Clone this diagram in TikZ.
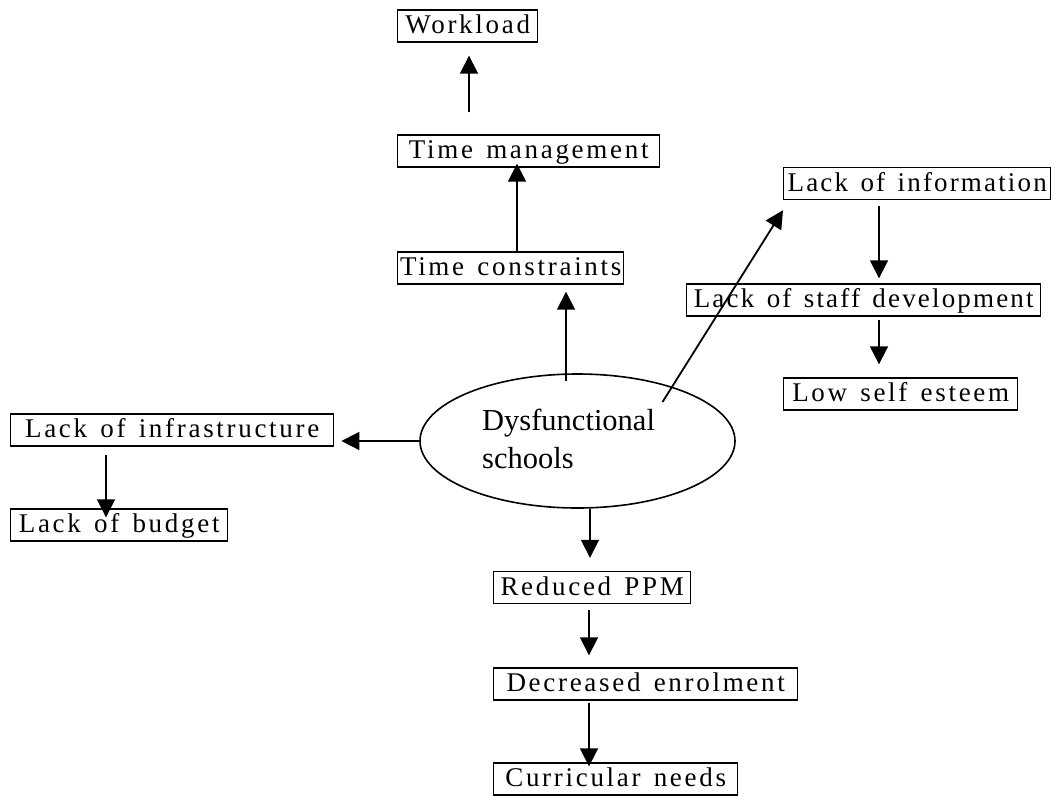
\documentclass[tikz,border=0pt]{standalone}
\usepackage{fontspec}
\setmainfont{Liberation Serif}
\newfontfamily\boxfont[LetterSpace=10,WordSpace=1.4]{Liberation Serif}
\newfontfamily\boxfonttight[LetterSpace=8,WordSpace=1.4]{Liberation Serif}
\usetikzlibrary{arrows.meta,shapes.geometric,calc}

\begin{document}
\begin{tikzpicture}[x=1pt,y=-1pt,
  cause/.style={draw, line width=1.4pt, anchor=west,
    font=\boxfont\fontsize{27}{30}\selectfont,
    minimum height=32pt, inner xsep=2pt, inner ysep=0pt,
    text height=20pt, text depth=5pt},
  tight/.style={font=\boxfonttight\fontsize{27}{30}\selectfont},
  arr/.style={line width=1.8pt, -{Triangle[length=18pt,width=18pt]}},
]
\fill[white] (0,0) rectangle (1055,796);
\useasboundingbox (0,0) rectangle (1055,796);

% boxes
\node[cause, minimum width=140pt] (workload)   at (397,26)    {Workload};
\node[cause, minimum width=262pt] (timemgmt)   at (397,151)   {Time management};
\node[cause, minimum width=226pt] (timecons)   at (397,268)   {Time constraints};
\node[cause, tight, minimum width=267pt] (lackinfo) at (783,183.5) {Lack of information};
\node[cause, tight, minimum width=354pt] (staffdev) at (686,300)   {Lack of staff development};
\node[cause, minimum width=234pt] (selfesteem) at (783,394)   {Low self esteem};
\node[cause, minimum width=323pt] (infra)      at (10,430)    {Lack of infrastructure};
\node[cause, minimum width=217pt] (budget)     at (10,525)    {Lack of budget};
\node[cause, minimum width=197pt] (ppm)        at (493,587.5) {Reduced PPM};
\node[cause, minimum width=304pt] (enrol)      at (493,684)   {Decreased enrolment};
\node[cause, minimum width=244pt] (curric)     at (493,779)   {Curricular needs};

% central ellipse
\node[ellipse, draw, line width=1.6pt, minimum width=315pt, minimum height=134pt,
      inner sep=0pt] (dys) at (577.5,441) {};
\node[anchor=west, align=left, font=\fontsize{30.5}{38}\selectfont, inner sep=0pt]
      (dyslabel) at (482,439) {Dysfunctional\\schools};

% connectors
\coordinate (c1) at ([xshift=72pt]workload.south west);
\draw[arr, shorten <=22pt, shorten >=13pt] (c1 |- timemgmt.north) -- (c1);

\coordinate (c2) at ([xshift=120pt]timecons.north west);
\draw[arr, shorten >=-4pt] (c2) -- (c2 |- timemgmt.south);

\coordinate (c3) at ([xshift=-11.5pt]dys.north);
\draw[arr, shorten <=-8pt, shorten >=7pt] (c3) -- (c3 |- timecons.south);

\coordinate (c4) at ([shift={(85,-39)}]dys.center);
\coordinate (c5) at ([yshift=-10pt]lackinfo.south west);
\draw[arr] (c4) -- (c5);

\draw[arr, shorten >=7pt] (dys.west) -- (dys.west -| infra.east);

\coordinate (c6) at ([xshift=96pt]infra.south west);
\draw[arr, shorten <=8pt, shorten >=-9pt] (c6) -- (c6 |- budget.north);

\coordinate (c7) at ([xshift=96pt]lackinfo.south west);
\draw[arr, shorten <=6pt, shorten >=5pt] (c7) -- (c7 |- staffdev.north);

\coordinate (c8) at ([xshift=96pt]selfesteem.north west);
\draw[arr, shorten <=3pt, shorten >=13pt] (c8 |- staffdev.south) -- (c8);

\coordinate (c9) at ([xshift=97pt]ppm.north west);
\draw[arr, shorten >=13pt] (c9 |- dys.south) -- (c9);

\coordinate (c10) at ([xshift=96pt]enrol.north west);
\draw[arr, shorten <=6pt, shorten >=12pt] (c10 |- ppm.south) -- (c10);

\coordinate (c11) at ([xshift=96pt]curric.north west);
\draw[arr, shorten <=2pt, shorten >=-4pt] (c11 |- enrol.south) -- (c11);
\end{tikzpicture}
\end{document}
